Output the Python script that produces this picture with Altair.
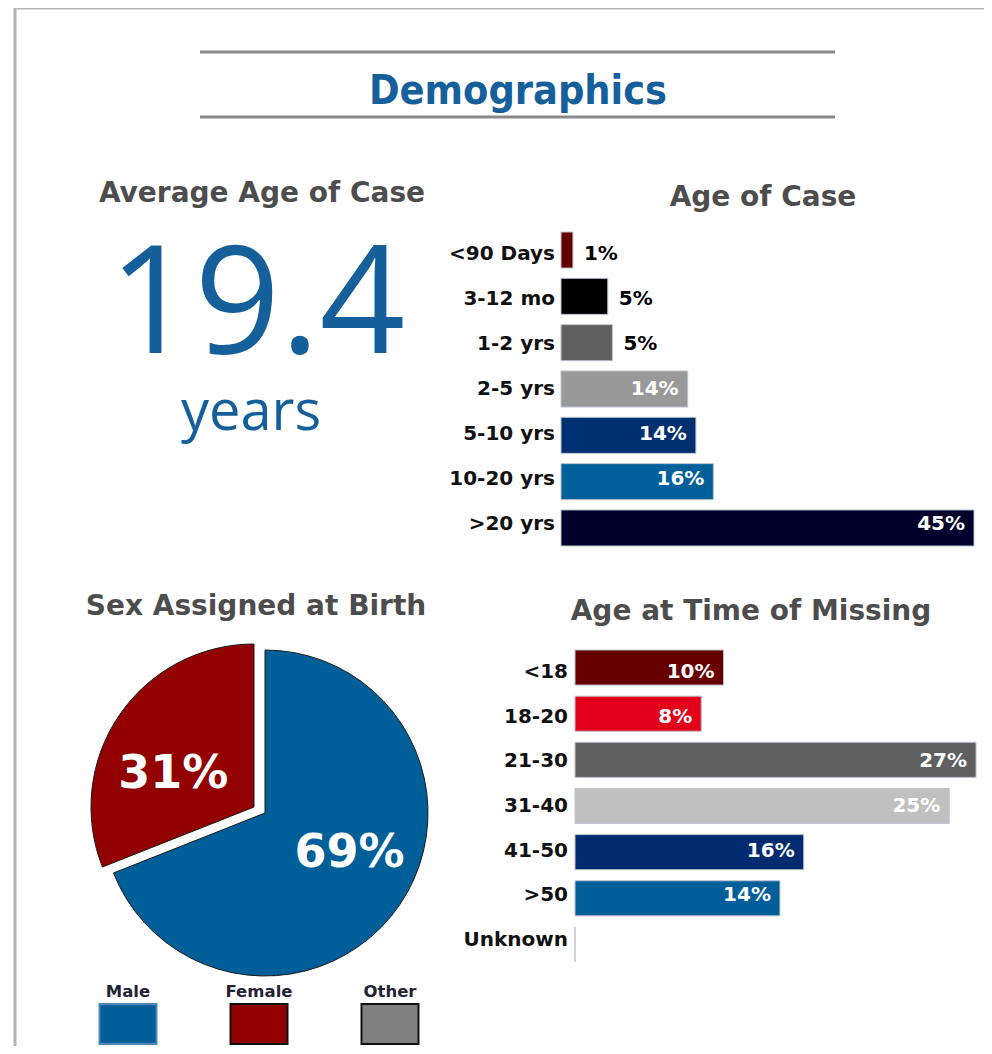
import math
import altair as alt
import pandas as pd

# ---------------- data ----------------
case_age_cats = ["<90 Days", "3-12 mo", "1-2 yrs", "2-5 yrs", "5-10 yrs", "10-20 yrs", ">20 yrs"]
case_age_vals = [1.3, 5.1, 5.6, 13.8, 14.7, 16.6, 45.0]
case_age_labels = ["1%", "5%", "5%", "14%", "14%", "16%", "45%"]

missing_age_cats = ["<18", "18-20", "21-30", "31-40", "41-50", ">50", "Unknown"]
missing_age_vals = [10.0, 8.5, 27.0, 25.2, 15.4, 13.8, 0.0]
missing_age_labels = ["10%", "8%", "27%", "25%", "16%", "14%", ""]

sex_cats = ["Male", "Female", "Other"]
sex_vals = [69, 31, 0]
sex_labels = ["69%", "31%", ""]

avg_age_value = "19.4"
avg_age_unit = "years"

main_title = "Demographics"
title_avg = "Average Age of Case"
title_case = "Age of Case"
title_sex = "Sex Assigned at Birth"
title_missing = "Age at Time of Missing"

# ---------------- styles ----------------
case_colors = ["#650000", "#000000", "#5f5f5f", "#999999", "#00306f", "#00609a", "#00002a"]
missing_colors = ["#660000", "#e2001a", "#5f5f5f", "#c0c0c0", "#002b6e", "#005e99", "#c8ccd8"]
sex_colors = ["#005e98", "#920000", "#808080"]
sex_stroke = ["#4a86b8", "#111111", "#111111"]

BLUE = "#15609b"
TITLE_GRAY = "#4d4d4d"
BOLD = "DejaVu Sans"
NARROW = "DejaVu Sans Condensed, Liberation Sans Narrow, DejaVu Sans"
LIGHT = "Open Sans"

O = 8  # page margin


def p(v):
    return v - O


one = pd.DataFrame({"k": [0]})


def rule(x1, x2, y1, y2, color, w):
    return alt.Chart(one).mark_rule(color=color, strokeWidth=w).encode(
        x=alt.value(p(x1)), x2=alt.value(p(x2)), y=alt.value(p(y1)), y2=alt.value(p(y2))
    )


def text(t, x, y, size, color, font, weight="bold", align="center", baseline="alphabetic"):
    return alt.Chart(pd.DataFrame({"t": [t]})).mark_text(
        fontSize=size, font=font, fontWeight=weight, color=color, align=align, baseline=baseline
    ).encode(x=alt.value(p(x)), y=alt.value(p(y)), text="t:N")


layers = []

# frame and title lines
layers.append(rule(15, 992, 8, 8, "#b4b4b4", 3))
layers.append(rule(15, 15, 7, 1054, "#b4b4b4", 3))
layers.append(rule(200, 835, 52, 52, "#8a8a8a", 3))
layers.append(rule(200, 835, 117, 117, "#8a8a8a", 3))

# titles
layers.append(text(main_title, 518, 104, 41, BLUE, NARROW))
layers.append(text(title_avg, 262, 202, 28, TITLE_GRAY, BOLD))
layers.append(text(title_case, 763, 206, 28, TITLE_GRAY, BOLD))
layers.append(text(title_sex, 256, 615, 28, TITLE_GRAY, BOLD))
layers.append(text(title_missing, 751, 620, 28, TITLE_GRAY, BOLD))

# average age
layers.append(text(avg_age_value, 257, 353, 150, BLUE, LIGHT, weight="normal"))
layers.append(text(avg_age_unit, 251, 430, 56, BLUE, LIGHT, weight="normal"))


# ---------------- bar charts ----------------
def bar_block(cats, vals, labs, colors, xdom, xr, yr, pad, label_x):
    df = pd.DataFrame({"cat": cats, "val": vals, "lab": labs})
    xs = alt.Scale(domain=xdom, range=[p(xr[0]), p(xr[1])], nice=False, zero=True)
    ys = alt.Scale(domain=cats, range=[p(yr[0]), p(yr[1])], paddingInner=pad, paddingOuter=0)
    cs = alt.Scale(domain=cats, range=colors)
    base = alt.Chart(df)
    X = alt.X("val:Q", scale=xs, axis=None)
    Y = alt.Y("cat:N", scale=ys, axis=None, sort=None)
    out = []
    out.append(base.mark_bar(stroke="#bfc3d0", strokeWidth=1).encode(
        x=X, y=Y, color=alt.Color("cat:N", scale=cs, legend=None)))
    out.append(base.mark_text(align="right", baseline="middle", font=BOLD, fontWeight="bold",
                              fontSize=20, color="#111111").encode(
        x=alt.value(p(label_x)), y=Y, text="cat:N"))
    out.append(base.transform_filter("datum.val < 8 && datum.lab != ''").mark_text(
        align="left", baseline="middle", dx=11, font=BOLD, fontWeight="bold", fontSize=20,
        color="#000000").encode(x=X, y=Y, text="lab:N"))
    out.append(base.transform_filter("datum.val >= 8").mark_text(
        align="right", baseline="middle", dx=-9, font=BOLD, fontWeight="bold", fontSize=20,
        color="#ffffff").encode(x=X, y=Y, text="lab:N"))
    return out


layers += bar_block(case_age_cats, case_age_vals, case_age_labels, case_colors,
                    [0, 45], (561, 974), (232, 546), 0.222, 555)
layers += bar_block(missing_age_cats, missing_age_vals, missing_age_labels, missing_colors,
                    [0, 27], (575, 976), (650, 962), 0.24, 568)

# ---------------- pie ----------------
dfp = pd.DataFrame({"sex": sex_cats, "val": sex_vals, "lab": sex_labels})
dfp["end"] = dfp["val"].cumsum() / 100.0
dfp["start"] = dfp["end"] - dfp["val"] / 100.0
dfp["mid"] = (dfp["start"] + dfp["end"]) / 2.0

ts = alt.Scale(domain=[0, 1], range=[0, 2 * math.pi])
sc = alt.Scale(domain=sex_cats, range=sex_colors)

pie_centers = {"Male": (265, 813, 95, 6, -13), "Female": (254, 807, 88, -8, 16)}
for s, (cx, cy, lr, ddx, ddy) in pie_centers.items():
    b = alt.Chart(dfp).transform_filter(f"datum.sex == '{s}'")
    layers.append(b.mark_arc(radius=163, stroke="#1a1a1a", strokeWidth=1).encode(
        theta=alt.Theta("start:Q", scale=ts),
        theta2="end:Q",
        color=alt.Color("sex:N", scale=sc, legend=None),
        x=alt.value(p(cx)), y=alt.value(p(cy)),
    ))
    layers.append(b.mark_text(radius=lr, dx=ddx, dy=ddy, font=BOLD, fontWeight="bold",
                              fontSize=46, color="#ffffff", baseline="middle").encode(
        theta=alt.Theta("mid:Q", scale=ts),
        x=alt.value(p(cx)), y=alt.value(p(cy)),
        text="lab:N",
    ))

# legend
lx = alt.Scale(domain=sex_cats, range=[p(62.5), p(455.5)], paddingInner=0.565, paddingOuter=0.2825)
LX = alt.X("sex:N", scale=lx, axis=None, sort=None)
layers.append(alt.Chart(dfp).mark_rect(strokeWidth=2).encode(
    x=LX, y=alt.value(p(1004)), y2=alt.value(p(1044)),
    color=alt.Color("sex:N", scale=sc, legend=None),
    stroke=alt.Stroke("sex:N", scale=alt.Scale(domain=sex_cats, range=sex_stroke), legend=None),
))
layers.append(alt.Chart(dfp).mark_text(font=BOLD, fontWeight="bold", fontSize=16.5,
                                       color="#1f2333", baseline="middle").encode(
    x=LX, y=alt.value(p(992)), text="sex:N"))

chart = alt.layer(*layers).resolve_scale(
    x="independent", y="independent", color="independent", theta="independent",
    stroke="independent"
).properties(
    width=976, height=1038, padding=0, autosize="none", background="#ffffff"
).configure_view(stroke=None)

chart.save("out.html", embed_options={"renderer": "svg", "actions": False})
